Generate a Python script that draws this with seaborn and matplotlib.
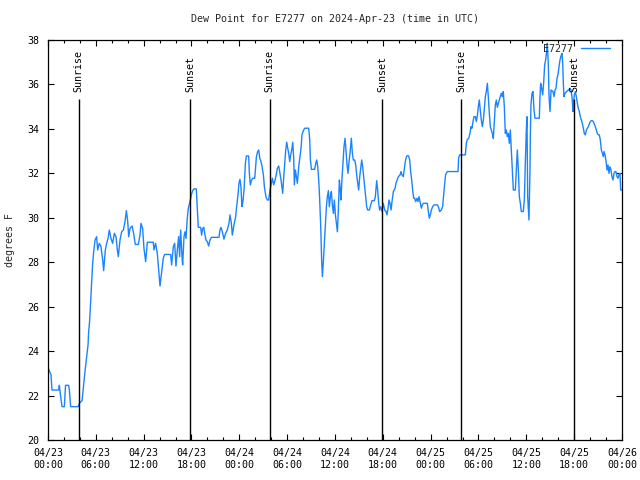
import numpy as np
import pandas as pd
import seaborn as sns
import matplotlib
matplotlib.use('Agg')
import matplotlib.pyplot as plt
import matplotlib.dates as mdates
from matplotlib.ticker import MultipleLocator

# hours since 2024-04-23 00:00 UTC, dew point in F
hours = [
    0.05, 0.38, 0.5, 1.34, 1.42, 1.59, 1.76, 2.05, 2.2, 2.59, 2.68, 2.84, 3.8, 3.93,
    4.27, 4.47, 4.68, 4.85, 5.02, 5.1, 5.23, 5.35, 5.48, 5.6, 5.73, 5.9, 6.1, 6.23,
    6.44, 6.65, 6.86, 6.98, 7.19, 7.36, 7.53, 7.69, 7.9, 8.11, 8.32, 8.53, 8.7, 8.82,
    9.03, 9.24, 9.45, 9.66, 9.83, 10.0, 10.12, 10.29, 10.54, 10.74, 10.95, 11.33,
    11.54, 11.66, 11.87, 12.04, 12.25, 12.46, 13.21, 13.29, 13.5, 13.71, 13.88,
    14.05, 14.26, 14.46, 14.63, 15.38, 15.51, 15.72, 15.89, 16.05, 16.22, 16.39,
    16.51, 16.64, 16.81, 16.89, 17.06, 17.18, 17.31, 17.47, 17.6, 17.81, 17.98,
    18.14, 18.31, 18.6, 18.73, 18.85, 19.15, 19.27, 19.4, 19.55, 19.65, 19.82,
    19.98, 20.15, 20.32, 20.49, 21.45, 21.57, 21.7, 21.87, 22.07, 22.28, 22.49,
    22.7, 22.83, 23.0, 23.12, 23.33, 23.54, 23.66, 23.83, 23.95, 24.08, 24.2, 24.33,
    24.46, 24.59, 24.67, 24.76, 24.88, 25.17, 25.26, 25.38, 25.51, 25.68, 25.93,
    26.0, 26.14, 26.3, 26.43, 26.56, 26.72, 26.85, 27.02, 27.14, 27.35, 27.52,
    27.68, 27.85, 27.98, 28.14, 28.31, 28.44, 28.6, 28.77, 28.94, 29.06, 29.23,
    29.36, 29.44, 29.57, 29.69, 29.82, 29.94, 30.07, 30.19, 30.32, 30.44, 30.57,
    30.7, 30.82, 30.9, 31.03, 31.15, 31.28, 31.45, 31.61, 31.74, 31.86, 32.03,
    32.2, 32.7, 32.83, 32.91, 33.04, 33.45, 33.58, 33.71, 33.83, 33.96, 34.08,
    34.21, 34.33, 34.42, 34.54, 34.67, 34.79, 34.92, 35.04, 35.17, 35.29, 35.42,
    35.54, 35.67, 35.8, 35.92, 36.05, 36.17, 36.3, 36.42, 36.55, 36.67, 36.75,
    36.88, 37.0, 37.13, 37.26, 37.38, 37.51, 37.63, 37.76, 37.88, 38.05, 38.18,
    38.3, 38.47, 38.6, 38.72, 38.85, 38.97, 39.1, 39.22, 39.35, 39.47, 39.6, 39.72,
    39.85, 39.97, 40.1, 40.31, 40.48, 40.64, 40.94, 41.06, 41.23, 41.35, 41.48,
    41.6, 41.73, 41.9, 42.06, 42.23, 42.4, 42.52, 42.65, 42.77, 42.9, 43.03, 43.15,
    43.32, 43.53, 43.65, 43.82, 43.95, 44.16, 44.28, 44.4, 44.57, 44.7, 44.82,
    44.95, 45.08, 45.24, 45.37, 45.49, 45.62, 45.74, 45.87, 46.0, 46.12, 46.29,
    46.41, 46.54, 46.71, 46.83, 46.96, 47.08, 47.58, 47.71, 47.83, 47.96, 48.09,
    48.25, 48.42, 48.84, 48.96, 49.13, 49.34, 49.5, 49.63, 49.76, 49.88, 50.09,
    51.43, 51.51, 51.64, 52.35, 52.47, 52.6, 52.77, 52.93, 53.06, 53.18, 53.31,
    53.43, 53.6, 53.73, 53.85, 53.98, 54.1, 54.23, 54.35, 54.48, 54.61, 54.73,
    54.86, 54.98, 55.11, 55.23, 55.36, 55.48, 55.61, 55.73, 55.86, 55.99, 56.11,
    56.24, 56.36, 56.49, 56.61, 56.74, 56.86, 56.99, 57.11, 57.24, 57.36, 57.49,
    57.61, 57.74, 57.87, 57.99, 58.12, 58.24, 58.37, 58.62, 58.75, 58.87, 59.0,
    59.12, 59.25, 59.37, 59.62, 59.75, 59.87, 60.0, 60.08, 60.17, 60.33, 60.46,
    60.5, 60.58, 60.71, 60.84, 60.96, 61.09, 61.63, 61.71, 61.8, 61.92, 62.05,
    62.17, 62.3, 62.42, 62.55, 62.63, 62.76, 62.84, 62.97, 63.1, 63.22, 63.35,
    63.47, 63.6, 63.72, 63.85, 63.97, 64.1, 64.22, 64.35, 64.47, 64.56, 64.64,
    64.72, 64.85, 65.06, 65.27, 65.48, 65.6, 65.73, 65.85, 65.93, 66.02, 66.15,
    66.27, 66.4, 66.52, 66.65, 66.77, 66.9, 67.02, 67.15, 67.27, 67.4, 67.53,
    67.65, 67.78, 67.9, 68.03, 68.15, 68.28, 68.4, 68.53, 68.65, 68.78, 68.9,
    69.03, 69.16, 69.28, 69.41, 69.53, 69.66, 69.74, 69.87, 70.0, 70.12, 70.24,
    70.37, 70.49, 70.62, 70.74, 70.87, 71.0, 71.12, 71.24, 71.37, 71.5, 71.62,
    71.75, 71.83, 71.95,
]
dewpoint = [
    23.22, 22.93, 22.25, 22.25, 22.46, 21.95, 21.5, 21.5, 22.46, 22.46, 22.25, 21.5, 21.5, 21.65,
    21.77, 22.47, 23.22, 23.75, 24.27, 24.87, 25.4, 26.22, 27.2, 27.95, 28.47, 29.0, 29.15, 28.55,
    28.85, 28.7, 28.1, 27.62, 28.55, 28.85, 29.07, 29.45, 29.07, 28.85, 29.3, 29.15, 28.55, 28.25,
    29.0, 29.37, 29.45, 29.83, 30.32, 29.83, 29.15, 29.52, 29.63, 29.3, 28.8, 28.8,
    29.22, 29.75, 29.52, 28.62, 28.03, 28.9, 28.9, 28.55, 28.85, 28.4, 27.65,
    26.93, 27.57, 28.18, 28.35, 28.35, 27.88, 28.7, 28.85, 27.83, 28.55, 29.15,
    28.25, 29.45, 28.25, 27.88, 29.15, 29.37, 29.07, 29.98, 30.43, 30.73, 31.03,
    31.22, 31.3, 31.3, 30.35, 29.57, 29.57, 29.22, 29.52, 29.57, 29.3, 29.0,
    28.93, 28.73, 29.0, 29.12, 29.12, 29.45, 29.57, 29.37, 29.04, 29.3, 29.45,
    29.75, 30.13, 29.75, 29.22, 29.68, 30.05, 30.5, 31.03, 31.55, 31.73, 31.4, 30.5,
    30.77, 31.25, 31.78, 32.45, 32.78, 32.78, 32.0, 31.48, 31.67, 31.78, 31.78,
    32.08, 32.75, 32.98, 33.05, 32.68, 32.53, 32.3, 31.93, 31.4, 30.92, 30.8,
    30.8, 31.25, 31.48, 31.78, 31.48, 31.63, 31.88, 32.23, 32.33, 32.08, 31.7,
    31.32, 31.1, 31.85, 32.45, 33.05, 33.4, 33.13, 32.9, 32.53, 32.83, 33.05,
    33.4, 32.68, 31.48, 32.15, 31.85, 31.55, 32.3, 32.75, 33.13, 33.73, 33.92,
    34.03, 34.03, 33.5, 32.63, 32.18, 32.18, 32.45, 32.6, 32.3, 31.7, 30.8,
    29.6, 28.03, 27.35, 28.03, 28.85, 29.68, 30.5, 30.95, 31.22, 30.5, 30.95,
    31.18, 30.58, 30.2, 30.8, 30.13, 29.75, 29.37, 30.35, 31.7, 31.25, 30.8,
    31.78, 32.45, 33.2, 33.58, 32.98, 32.38, 32.0, 32.53, 32.9, 33.58, 32.9,
    32.6, 32.6, 32.38, 31.93, 31.55, 31.25, 31.85, 32.23, 32.6, 32.3, 31.85, 31.48,
    30.95, 30.5, 30.35, 30.35, 30.58, 30.77, 30.77, 30.95, 31.67, 31.25, 30.65,
    30.35, 30.5, 30.28, 30.65, 30.35, 30.28, 30.13, 30.43, 30.8, 30.65, 30.35, 30.73,
    31.18, 31.32, 31.55, 31.73, 31.85, 31.93, 32.08, 31.93, 31.85, 32.2, 32.53,
    32.75, 32.8, 32.78, 32.6, 32.08, 31.7, 31.25, 30.88, 30.88, 30.73, 30.88,
    30.73, 30.95, 30.65, 30.43, 30.58, 30.65, 30.65, 30.28, 29.98, 30.13, 30.35,
    30.5, 30.58, 30.58, 30.5, 30.28, 30.35, 30.5, 31.03, 31.55, 31.95, 32.08,
    32.08, 32.68, 32.83, 32.83, 33.35, 33.53, 33.57, 33.8, 34.1, 34.03, 34.33,
    34.55, 34.55, 34.33, 34.58, 35.0, 35.3, 34.85, 34.4, 34.1, 34.4, 34.92,
    35.45, 35.68, 36.05, 35.45, 34.7, 34.1, 33.95, 33.8, 33.57, 34.4, 35.08,
    35.3, 34.97, 35.15, 35.3, 35.45, 35.6, 35.45, 35.68, 35.0, 33.8, 33.95,
    33.65, 33.8, 33.35, 33.95, 33.05, 32.15, 31.25, 31.25, 32.15, 33.05, 32.15,
    30.95, 30.65, 30.28, 30.28, 30.8, 32.45, 33.95, 34.55, 30.95, 29.9, 32.15,
    33.65, 35.08, 35.6, 35.68, 34.85, 34.48, 34.48, 35.45, 36.05, 35.83, 35.53,
    36.05, 36.88, 37.1, 37.48, 37.85, 36.88, 35.53, 34.78, 35.75, 35.72, 35.68,
    35.45, 35.75, 35.83, 36.28, 36.43, 36.8, 37.1, 37.28, 37.4, 36.95, 36.05,
    35.45, 35.6, 35.68, 35.75, 35.83, 35.75, 35.45, 34.78, 35.23, 35.53, 35.68,
    35.45, 35.15, 34.92, 34.78, 34.55, 34.4, 34.25, 34.03, 33.8, 33.73, 33.95,
    34.03, 34.1, 34.22, 34.33, 34.37, 34.37, 34.33, 34.22, 34.1, 33.95, 33.8,
    33.73, 33.73, 33.5, 33.05, 32.9, 32.75, 32.98, 32.83, 32.53, 32.15, 32.38,
    32.0, 32.3, 32.15, 31.85, 31.7, 32.0, 32.08, 32.08, 31.85, 31.78, 31.93,
    32.0, 31.25, 31.25,
]

sun_labels = ['Sunrise', 'Sunset', 'Sunrise', 'Sunset', 'Sunrise', 'Sunset']
sun_times = ['2024-04-23 03:51', '2024-04-23 17:51', '2024-04-24 03:48',
             '2024-04-24 17:56', '2024-04-25 03:50', '2024-04-25 17:59']

base = pd.Timestamp('2024-04-23 00:00')
df = pd.DataFrame({'time': base + pd.to_timedelta(hours, unit='h'),
                   'dewpoint': dewpoint})

sns.set_style('ticks')
plt.rcParams['font.family'] = ['DejaVu Sans Mono']
plt.rcParams['font.size'] = 7.2

fig = plt.figure(figsize=(6.4, 4.8), dpi=100)
ax = fig.add_axes([48 / 640, 40 / 480, 574 / 640, 400 / 480])

sns.lineplot(data=df, x='time', y='dewpoint', ax=ax, color='#1a84ff',
             linewidth=1.0, label='E7277')

for lab, t in zip(sun_labels, pd.to_datetime(sun_times)):
    ax.vlines(t, 20, 35.33, color='black', linewidth=1.0)
    ax.text(t, 35.66, lab, rotation=90, ha='center', va='bottom',
            fontsize=7.2, color='black')

ax.set_xlim(base, base + pd.Timedelta(hours=72))
ax.set_ylim(20, 38)
ax.yaxis.set_major_locator(MultipleLocator(2))
ax.xaxis.set_major_locator(mdates.HourLocator(byhour=[0, 6, 12, 18]))
ax.xaxis.set_minor_locator(mdates.HourLocator(interval=2))
ax.xaxis.set_major_formatter(mdates.DateFormatter('%m/%d\n%H:%M'))

ax.tick_params(which='both', direction='in', top=True, right=True,
               colors='black', labelsize=7.2, width=0.8)
ax.tick_params(which='major', length=4.5)
ax.tick_params(which='minor', length=2.5)
ax.tick_params(axis='x', pad=6)
ax.tick_params(axis='y', pad=6)
for s in ax.spines.values():
    s.set_color('black')
    s.set_linewidth(0.9)

ax.set_xlabel('')
ax.set_ylabel('degrees F', fontsize=7.2)
ax.yaxis.set_label_coords(-0.058, 0.5)

fig.text(335 / 640, 1 - 19 / 480, 'Dew Point for E7277 on 2024-Apr-23 (time in UTC)',
         ha='center', va='center', fontsize=7.2)

ax.legend(loc='center right', bbox_to_anchor=(562 / 574, 391 / 400),
          frameon=False, markerfirst=False, borderpad=0, borderaxespad=0,
          handlelength=2.9, handletextpad=0.8, fontsize=7.2)

fig.savefig('out.png', dpi=100)
